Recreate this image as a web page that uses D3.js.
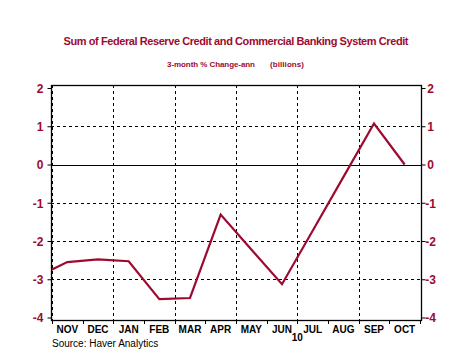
<!DOCTYPE html>
<html lang="en">
<head>
<meta charset="utf-8">
<title>Federal Reserve Credit + Commercial Banking System Credit</title>
<script src="https://cdn.jsdelivr.net/npm/d3@7"></script>
<style>
  body { margin: 0; background: #fff; }
  text { font-family: "Liberation Sans", Arial, sans-serif; }
</style>
</head>
<body>
<div id="chart"></div>
<script>
// data: month index 0 = Nov 2009, points sit at mid-month
var months = ["2009-10", "2009-11", "2009-12", "2010-01", "2010-02", "2010-03", "2010-04",
              "2010-05", "2010-06", "2010-07", "2010-08", "2010-09", "2010-10"];
var values = [-2.94, -2.55, -2.48, -2.53, -3.52, -3.49, -1.31,
              -2.22, -3.13, -1.73, -0.33, 1.07, 0.00];
var monthLabels = ["NOV", "DEC", "JAN", "FEB", "MAR", "APR", "MAY", "JUN", "JUL", "AUG", "SEP", "OCT"];
var yTicks = [2, 1, 0, -1, -2, -3, -4];
var yearLabels = [{ label: "10", at: 8 }];

var w = 472, h = 354;
var red = "#9e0a2f";
var pLeft = 51, pRight = 421, pTop = 85, pBottom = 320;

var svg = d3.select("#chart").append("svg")
    .attr("width", w)
    .attr("height", h);

var x = d3.scaleLinear().domain([0, 12]).range([52, 420]);
var y = d3.scaleLinear().domain([-4, 2]).range([317.5, 88]);

// titles
svg.append("text")
   .attr("x", 236).attr("y", 44.5)
   .attr("text-anchor", "middle")
   .attr("fill", red)
   .style("font-size", "11px").style("font-weight", "bold")
   .attr("textLength", 345)
   .text("Sum of Federal Reserve Credit and Commercial Banking System Credit");
svg.append("text")
   .attr("x", 167).attr("y", 67)
   .attr("fill", red)
   .style("font-size", "8px").style("font-weight", "bold")
   .attr("textLength", 88)
   .text("3-month % Change-ann");
svg.append("text")
   .attr("x", 270).attr("y", 67)
   .attr("fill", red)
   .style("font-size", "8px").style("font-weight", "bold")
   .attr("textLength", 34)
   .text("(billions)");

// horizontal grid
svg.append("g").selectAll("line")
   .data(yTicks.filter(function(d) { return d !== 2 && d !== -4; }))
   .join("line")
   .attr("x1", pLeft).attr("x2", pRight)
   .attr("y1", function(d) { return Math.round(y(d)) + 0.5; })
   .attr("y2", function(d) { return Math.round(y(d)) + 0.5; })
   .attr("stroke", "#000")
   .attr("stroke-width", 1)
   .attr("stroke-dasharray", function(d) { return d === 0 ? null : "3,3"; });

// vertical grid every two months
svg.append("g").selectAll("line")
   .data([0, 2, 4, 6, 8, 10])
   .join("line")
   .attr("x1", function(d) { return Math.round(x(d)) + 0.5; })
   .attr("x2", function(d) { return Math.round(x(d)) + 0.5; })
   .attr("y1", pTop).attr("y2", pBottom)
   .attr("stroke", "#000")
   .attr("stroke-dasharray", "3,3");

// frame
svg.append("rect")
   .attr("x", pLeft + 0.5).attr("y", pTop + 0.5)
   .attr("width", pRight - pLeft).attr("height", pBottom - pTop)
   .attr("fill", "none")
   .attr("stroke", "#000")
   .attr("stroke-width", 1.3);

// y axes
var fmt = function(d) { return String(d); };
var yLeft = d3.axisLeft(y).tickValues(yTicks).tickSize(4).tickPadding(4).tickFormat(fmt);
var gl = svg.append("g").attr("transform", "translate(" + (pLeft + 0.5) + ",0)").call(yLeft);
var yRight = d3.axisRight(y).tickValues(yTicks).tickSize(4).tickPadding(4).tickFormat(fmt);
var gr = svg.append("g").attr("transform", "translate(" + (pRight + 0.5) + ",0)").call(yRight);
[gl, gr].forEach(function(g) {
  g.select(".domain").remove();
  g.selectAll("line").attr("stroke", "#000");
  g.selectAll("text")
   .attr("fill", red)
   .style("font-size", "12px").style("font-weight", "bold")
   .style("font-family", "'Liberation Sans', Arial, sans-serif")
   .attr("dy", "0.36em");
});
gr.selectAll("text").attr("text-anchor", "middle").attr("x", 9);

// x axis ticks and labels
svg.append("g").selectAll("line")
   .data(d3.range(0, 13))
   .join("line")
   .attr("x1", function(d) { return Math.round(x(d)) + 0.5; })
   .attr("x2", function(d) { return Math.round(x(d)) + 0.5; })
   .attr("y1", pBottom).attr("y2", pBottom + 4)
   .attr("stroke", "#000");
svg.append("g").selectAll("text")
   .data(monthLabels)
   .join("text")
   .attr("x", function(d, i) { return x(i + 0.5); })
   .attr("y", 333)
   .attr("text-anchor", "middle")
   .style("font-size", "10px").style("font-weight", "bold")
   .text(function(d) { return d; });
svg.append("g").selectAll("text")
   .data(yearLabels)
   .join("text")
   .attr("x", function(d) { return x(d.at); })
   .attr("y", 341)
   .attr("text-anchor", "middle")
   .style("font-size", "10px").style("font-weight", "bold")
   .text(function(d) { return d.label; });

svg.append("text")
   .attr("x", 52).attr("y", 347)
   .style("font-size", "10px")
   .text("Source: Haver Analytics");

// series line, clipped to plot area
svg.append("clipPath").attr("id", "plot-area")
   .append("rect")
   .attr("x", 52).attr("y", pTop).attr("width", pRight - 52).attr("height", pBottom - pTop);

var line = d3.line()
   .x(function(d, i) { return x(i - 0.5); })
   .y(function(d) { return y(d); });

svg.append("path")
   .datum(values)
   .attr("clip-path", "url(#plot-area)")
   .attr("d", line)
   .attr("fill", "none")
   .attr("stroke", red)
   .attr("stroke-width", 2.2);
</script>
</body>
</html>
